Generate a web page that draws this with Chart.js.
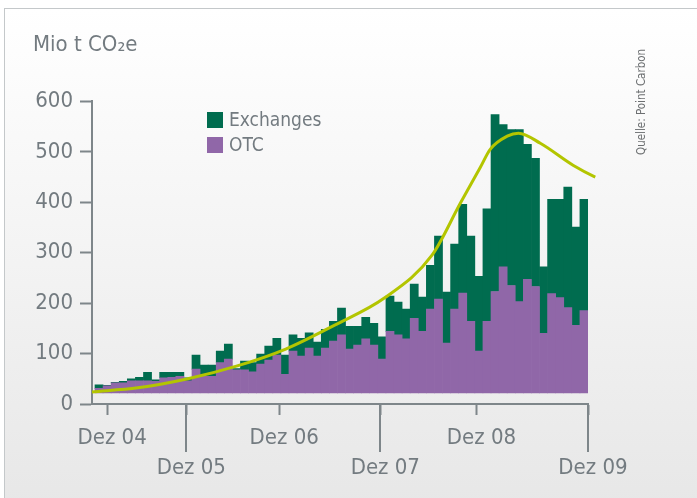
<!DOCTYPE html>
<html lang="de">
<head>
<meta charset="UTF-8">
<title>Handelsvolumen CO2 – Exchanges und OTC</title>
<script src="https://cdn.jsdelivr.net/npm/chart.js"></script>
<style>
  html, body { margin: 0; padding: 0; background: #fff; }
  .panel {
    position: absolute; left: 4px; top: 8px; width: 720px; height: 520px;
    border: 1px solid #c4c8ca;
    background: linear-gradient(to bottom, #ffffff 0%, #f4f4f4 45%, #e6e6e6 100%);
  }
  .wrap { position: absolute; left: 0; top: 0; width: 697px; height: 498px; }
</style>
</head>
<body>
<div class="panel"></div>
<div class="wrap"><canvas id="chart"></canvas></div>
<script>
  // monthly volumes, million t CO2e (first bar = Nov 04, last = Dez 09)
  const otc = [31, 36, 42, 42, 46, 46, 46, 45, 52, 53, 55, 46, 69, 55, 55, 82, 89, 68, 68, 64,
               79, 87, 97, 59, 105, 95, 111, 95, 111, 125, 137, 109, 117, 129, 117, 89, 144, 137, 129, 170,
               144, 188, 208, 121, 188, 220, 164, 105, 164, 223, 272, 235, 203, 247, 233, 140, 219, 211, 191, 156,
               185];
  const exchanges = [7, 1, 1, 3, 4, 7, 17, 3, 11, 10, 8, 6, 28, 22, 22, 23, 30, 2, 17, 18,
                     20, 28, 33, 38, 32, 35, 30, 28, 37, 39, 53, 45, 37, 43, 43, 44, 70, 65, 59, 68,
                     68, 87, 125, 101, 129, 176, 169, 148, 223, 351, 282, 309, 341, 268, 254, 132, 187, 195, 239, 195,
                     221];

  // trend curve, read as (month position, value) pairs
  const trendPos = [-0.87, 4.8, 11, 17, 23.1, 29.1, 35.3, 41.2, 44.7, 47.2, 48.4, 50.5, 51.9, 54.6, 58.7, 61.4, 62.6];
  const trendVal = [24, 32, 50, 75, 109, 156, 210, 295, 398, 470, 505, 531, 537, 517, 473, 450, 442];

  const xTickPos = [1, 10.8, 22.3, 34.8, 46.7, 60.5];
  const xTickLabels = ['Dez 04', 'Dez 05', 'Dez 06', 'Dez 07', 'Dez 08', 'Dez 09'];
  const longTicks = [1, 3, 5];   // these reach down to the second label row

  const FONT = "'DejaVu Sans Condensed', 'Liberation Sans Narrow', 'DejaVu Sans', sans-serif";
  const GREY = '#737b80';
  const AXIS = '#7e868a';
  const GREEN = '#006c4f';
  const PURPLE = '#9067a8';
  const LIME = '#b3c500';

  const extras = {
    id: 'extras',
    afterDraw(chart) {
      const { ctx, chartArea } = chart;
      const x = chart.scales.x;
      ctx.save();
      // longer ticks for the lower label row
      ctx.strokeStyle = AXIS;
      ctx.lineWidth = 2;
      longTicks.forEach(k => {
        const px = Math.round(x.getPixelForValue(xTickPos[k]));
        ctx.beginPath();
        ctx.moveTo(px, chartArea.bottom);
        ctx.lineTo(px, chartArea.bottom + 48);
        ctx.stroke();
      });
      // legend inside the plot
      const items = [chart.data.datasets[2], chart.data.datasets[1]];
      ctx.font = '19px ' + FONT;
      ctx.textBaseline = 'middle';
      items.forEach((ds, k) => {
        const cy = 120 + k * 25;
        ctx.fillStyle = ds.backgroundColor;
        ctx.fillRect(207, cy - 8, 16, 16);
        ctx.fillStyle = GREY;
        ctx.fillText(ds.label, 229, cy + 1);
      });
      // source note, rotated
      ctx.translate(642, 155);
      ctx.rotate(-Math.PI / 2);
      ctx.font = '11.5px ' + FONT;
      ctx.fillStyle = '#6c6f71';
      ctx.textBaseline = 'middle';
      ctx.fillText('Quelle: Point Carbon', 0, 0);
      ctx.restore();
    }
  };

  new Chart(document.getElementById('chart'), {
    type: 'bar',
    data: {
      datasets: [
        {
          type: 'line',
          label: 'Trend',
          data: trendPos.map((p, i) => ({ x: p, y: trendVal[i] })),
          borderColor: LIME,
          borderWidth: 3,
          pointRadius: 0,
          cubicInterpolationMode: 'monotone',
          clip: false,
          stack: 'trend',
          order: 0
        },
        {
          label: 'OTC',
          data: otc.map((v, i) => ({ x: i, y: v })),
          backgroundColor: PURPLE,
          base: 22,
          stack: 'vol',
          order: 1
        },
        {
          label: 'Exchanges',
          data: exchanges.map((v, i) => ({ x: i, y: v })),
          backgroundColor: GREEN,
          stack: 'vol',
          order: 1
        }
      ]
    },
    options: {
      responsive: true,
      maintainAspectRatio: false,
      animation: false,
      datasets: { bar: { barPercentage: 1, categoryPercentage: 1, borderWidth: 0 } },
      layout: { padding: { left: 33, top: 10, right: 109, bottom: 0 } },
      plugins: {
        legend: { display: false },
        tooltip: { enabled: false },
        title: {
          display: true,
          text: 'Mio t CO₂e',
          align: 'start',
          color: GREY,
          font: { family: FONT, size: 22, weight: 'normal' },
          padding: { top: 22, bottom: 43 }
        }
      },
      scales: {
        x: {
          type: 'linear',
          stacked: true,
          offset: false,
          min: -0.87,
          max: 60.5,
          afterBuildTicks(s) { s.ticks = xTickPos.map(v => ({ value: v })); },
          afterFit(s) { s.height = 94; },
          ticks: {
            autoSkip: false,
            maxRotation: 0,
            color: GREY,
            padding: 8,
            labelOffset: 5,
            font: { family: FONT, size: 22, lineHeight: 1.364 },
            callback: (v, i) => (i % 2 ? ['', xTickLabels[i]] : xTickLabels[i])
          },
          grid: { offset: false, drawOnChartArea: false, tickLength: 11, tickColor: AXIS, tickWidth: 2 },
          border: { color: AXIS, width: 2 }
        },
        y: {
          stacked: true,
          min: 0,
          max: 600,
          afterFit(s) { s.width = 59; },
          ticks: {
            stepSize: 100,
            color: GREY,
            padding: 7,
            font: { family: FONT, size: 22 }
          },
          grid: { drawOnChartArea: false, tickLength: 12, tickColor: AXIS, tickWidth: 2 },
          border: { color: AXIS, width: 2 }
        }
      }
    },
    plugins: [extras]
  });
</script>
</body>
</html>
